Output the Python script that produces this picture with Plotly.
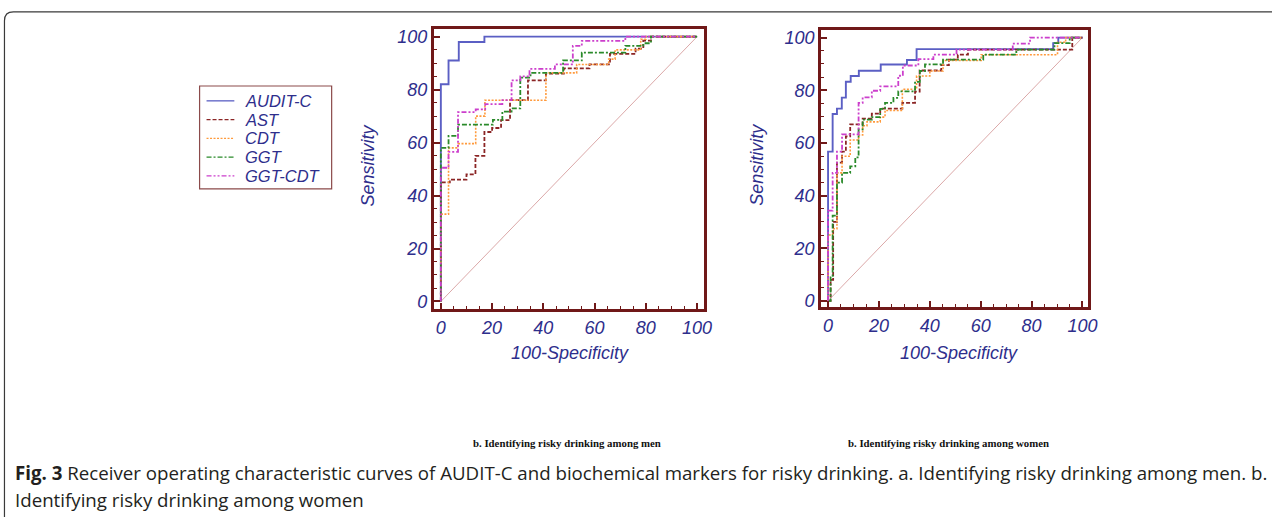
import plotly.graph_objects as go

# ---------------- data (100-Specificity, Sensitivity step points) ----------------
series_names = ["AUDIT-C", "AST", "CDT", "GGT", "GGT-CDT"]

# Men (left panel)
men_auditc_x = [0, 0, 3, 7, 17, 100]
men_auditc_y = [0, 82, 91, 98, 100, 100]
men_ast_x = [0, 0, 3.5, 10, 13.5, 17, 20, 23.5, 27, 34, 41, 48, 58, 66, 76, 79, 82, 100]
men_ast_y = [0, 45, 46, 48, 55, 64, 65.5, 68.5, 76, 83.5, 86, 88, 89.5, 93.5, 95.5, 98.5, 100, 100]
men_cdt_x = [0, 0, 3, 6.7, 13.6, 17.2, 41, 53, 65.5, 68, 78, 80, 100]
men_cdt_y = [0, 33, 58, 59.6, 70, 76, 86.3, 89.5, 91.5, 95, 99, 100, 100]
men_ggt_x = [0, 0, 3, 6.7, 20.3, 24, 27.6, 31, 35, 47.7, 55, 72, 79, 82, 100]
men_ggt_y = [0, 58, 62.5, 66.8, 68.6, 71.7, 72.9, 84.5, 86.3, 91, 94, 96.5, 97.5, 100, 100]
men_ggtcdt_x = [0, 0, 3, 6.7, 13.6, 17.3, 24, 27.6, 31, 34.6, 44.5, 51.5, 55, 72, 100]
men_ggtcdt_y = [0, 50.5, 56.5, 71.5, 72.5, 74.5, 76, 83.5, 85, 87.8, 89.5, 96.5, 98.4, 100, 100]

# Women (right panel)
women_auditc_x = [0, 0, 1.8, 3.5, 5.4, 7, 8.9, 12.1, 20.7, 31, 34.8, 88.5, 90.5, 100]
women_auditc_y = [0, 56.7, 71, 73, 77.2, 83.2, 85.4, 87.4, 89.8, 91.5, 95.6, 97.9, 100, 100]
women_ast_x = [0, 1, 2, 3.5, 5.5, 7, 8.7, 13.6, 17.2, 20.5, 29.2, 34.2, 36, 44.5, 47.5, 51, 55, 96, 100]
women_ast_y = [0, 8, 30, 52.5, 56.7, 62.5, 67, 69.2, 71.1, 73, 75.2, 79.5, 87.5, 89.5, 91.6, 93.5, 95.4, 100, 100]
women_cdt_x = [0, 0, 1.8, 3.5, 5.5, 8.7, 12, 13.6, 15.3, 20.5, 22.4, 29.2, 34.8, 40, 45.2, 60.2, 90.2, 93.4, 100]
women_cdt_y = [0, 25, 27.4, 48.6, 54.9, 61.1, 63, 66.5, 68, 69.8, 72.3, 80.4, 85.4, 87.3, 91.3, 93.5, 98.2, 100, 100]
women_ggt_x = [0, 1, 1.8, 3.5, 5.5, 8.7, 10.7, 12, 13.6, 17.2, 20.5, 22.4, 25.7, 27.6, 34.2, 36.1, 38.1, 45.2, 61, 74, 89, 95, 100]
women_ggt_y = [0, 9.4, 32.4, 44.9, 48.6, 51.1, 54.5, 65.1, 68.8, 69.8, 72.9, 75.2, 77.1, 79.6, 83.2, 87.3, 89.8, 91.6, 93.5, 95.4, 97.9, 100, 100]
women_ggtcdt_x = [0, 0, 1.8, 3.5, 5.5, 12, 13.6, 17.2, 20.5, 27.6, 29.4, 35.5, 41.4, 50.5, 72.6, 79.4, 100]
women_ggtcdt_y = [0, 34.3, 48.6, 56.7, 63.2, 75.2, 77.3, 79.8, 81.5, 85.5, 89.4, 91.8, 93.5, 95.4, 97.7, 100, 100]

diag_x = [0, 100]
diag_y = [0, 100]

tick_vals = [0, 20, 40, 60, 80, 100]
tick_text = ["0", "20", "40", "60", "80", "100"]

panel_captions = ["b. Identifying risky drinking among men", "b. Identifying risky drinking among women"]
caption_line1 = "<b>Fig. 3</b> Receiver operating characteristic curves of AUDIT-C and biochemical markers for risky drinking. a. Identifying risky drinking among men. b."
caption_line2 = "Identifying risky drinking among women"

# ---------------- styles ----------------
W, H = 1281, 521
styles = {
    "AUDIT-C": dict(color="#5b5fc4", width=1.9, dash="solid"),
    "AST": dict(color="#8b2525", width=1.8, dash="4px,2px"),
    "CDT": dict(color="#ff9a3c", width=1.6, dash="2px,1.5px"),
    "GGT": dict(color="#2a8a2a", width=1.8, dash="5px,2px,2px,2px"),
    "GGT-CDT": dict(color="#cc3fcc", width=1.8, dash="5px,2px,2px,2px,2px,2px"),
}
frame_col = "#701818"
text_col = "#2e2e8c"
sans = "Liberation Sans, Arial"

fig = go.Figure()

panels = [
    ("x", "y", [men_auditc_x, men_ast_x, men_cdt_x, men_ggt_x, men_ggtcdt_x],
     [men_auditc_y, men_ast_y, men_cdt_y, men_ggt_y, men_ggtcdt_y]),
    ("x2", "y2", [women_auditc_x, women_ast_x, women_cdt_x, women_ggt_x, women_ggtcdt_x],
     [women_auditc_y, women_ast_y, women_cdt_y, women_ggt_y, women_ggtcdt_y]),
]
for xa, ya, xs, ys in panels:
    fig.add_trace(go.Scatter(x=diag_x, y=diag_y, mode="lines", xaxis=xa, yaxis=ya,
                             line=dict(color="#dba8a8", width=1), showlegend=False, hoverinfo="skip"))
    for name, xv, yv in zip(series_names, xs, ys):
        fig.add_trace(go.Scatter(x=xv, y=yv, mode="lines", name=name, xaxis=xa, yaxis=ya,
                                 line=dict(shape="hv", **styles[name]), showlegend=False))

def px_x(p):
    return p / W

def px_y(p):
    return 1 - p / H

axis_common = dict(
    showline=True, mirror=True, linecolor=frame_col, linewidth=3,
    showgrid=False, zeroline=False,
    ticks="inside", ticklen=6, tickwidth=1.5, tickcolor=frame_col,
    tickvals=tick_vals, ticktext=tick_text,
    tickfont=dict(family=sans, size=18, color=text_col, style="italic"),
    minor=dict(dtick=5, tick0=0, ticks="inside", ticklen=3, tickwidth=1.2, tickcolor=frame_col, showgrid=False),
    fixedrange=True,
)

fig.update_layout(
    width=W, height=H, autosize=False,
    margin=dict(l=0, r=0, t=0, b=0),
    paper_bgcolor="white", plot_bgcolor="white",
    xaxis=dict(domain=[px_x(437), px_x(709)], range=[-2.7, 102.7], anchor="y", **axis_common),
    yaxis=dict(domain=[px_y(311), px_y(27)], range=[-3, 103], anchor="x", **axis_common),
    xaxis2=dict(domain=[px_x(827), px_x(1096)], range=[-2.7, 102.3], anchor="y2", **axis_common),
    yaxis2=dict(domain=[px_y(309), px_y(28)], range=[-2.5, 103], anchor="x2", **axis_common),
    showlegend=False,
)

annotations = []
shapes = []

def ann(text, x, y, font, xanchor="center", yanchor="middle", textangle=0):
    annotations.append(dict(text=text, x=px_x(x), y=px_y(y), xref="paper", yref="paper",
                            xanchor=xanchor, yanchor=yanchor, showarrow=False,
                            textangle=textangle, font=font))

# axis titles
for cx in (371, 762):
    ann("Sensitivity", cx, 165, dict(family=sans, size=18, color=text_col, style="italic"), textangle=-90)
for cx in (574, 966):
    ann("100-Specificity", cx, 355, dict(family=sans, size=18, color=text_col, style="italic"))
# panel captions
for cx, txt in zip((571, 955), panel_captions):
    ann("<b>" + txt + "</b>", cx, 446, dict(family="Liberation Serif, Times New Roman", size=10.8, color="#111"))
# figure caption
ann(caption_line1, 13, 476, dict(family="Open Sans", size=18.7, color="#231f20"), xanchor="left")
ann(caption_line2, 13, 503, dict(family="Open Sans", size=18.7, color="#231f20"), xanchor="left")

# legend (drawn manually to match the reference spacing)
shapes.append(dict(type="rect", xref="paper", yref="paper",
                   x0=px_x(201), x1=px_x(334), y0=px_y(189), y1=px_y(85),
                   line=dict(color="#8b4a4a", width=1.2), fillcolor="white"))
legend_rows = [100, 119, 138, 157, 176]
for name, ry in zip(series_names, legend_rows):
    st = styles[name]
    shapes.append(dict(type="line", xref="paper", yref="paper",
                       x0=px_x(208), x1=px_x(236), y0=px_y(ry), y1=px_y(ry),
                       line=dict(color=st["color"], width=1.3, dash=st["dash"])))
    ann(name, 245, ry, dict(family=sans, size=16.5, color=text_col, style="italic"), xanchor="left")

# outer rounded border (left + top)
xl = px_x(4.5)
yt = px_y(10)
r_x = 9 / W
r_y = 9 / H
path = f"M {xl},0 L {xl},{yt - r_y} Q {xl},{yt} {xl + r_x},{yt} L 1,{yt}"
shapes.append(dict(type="path", path=path, xref="paper", yref="paper",
                   line=dict(color="#3a3a3a", width=1.2)))

fig.update_layout(annotations=annotations, shapes=shapes)

fig.write_html("out.html", config={"displayModeBar": False},
               post_script="document.body.style.margin='0';document.body.style.overflow='hidden';")
